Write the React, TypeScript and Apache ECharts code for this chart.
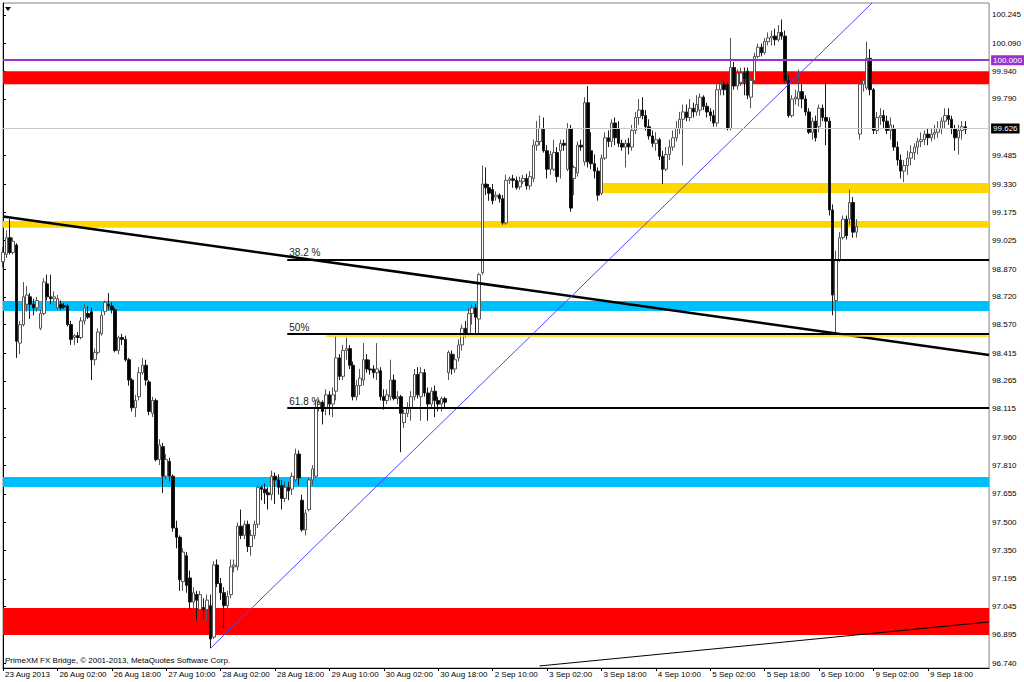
import React, { useEffect, useRef } from 'react';
import * as echarts from 'echarts';

// ---- tick labels ----
const tickLabels = [
  '23 Aug 2013', '26 Aug 02:00', '26 Aug 18:00', '27 Aug 10:00', '28 Aug 02:00', '28 Aug 18:00',
  '29 Aug 10:00', '30 Aug 02:00', '30 Aug 18:00', '2 Sep 10:00', '3 Sep 02:00', '3 Sep 18:00',
  '4 Sep 10:00', '5 Sep 02:00', '5 Sep 18:00', '6 Sep 10:00', '9 Sep 02:00', '9 Sep 18:00',
];
const priceTicks = [
  96.74, 96.895, 97.045, 97.195, 97.35, 97.5, 97.655, 97.81, 97.96, 98.115, 98.265, 98.415,
  98.57, 98.72, 98.87, 99.025, 99.175, 99.33, 99.485, 99.79, 99.94, 100.09, 100.245,
];

// ---- H1 candles [open, close, low, high] by trading day ----
const aug23 = [
  [98.91, 98.96, 98.88, 98.99], [98.95, 99.04, 98.93, 99.08], [99.04, 98.96, 98.95, 99.14],
  [98.96, 99.02, 98.95, 99.04], [99.0, 98.48, 98.39, 99.01], [98.47, 98.57, 98.41, 98.59],
  [98.57, 98.72, 98.56, 98.8], [98.68, 98.73, 98.64, 98.78], [98.72, 98.68, 98.6, 98.74],
  [98.68, 98.66, 98.62, 98.71], [98.66, 98.7, 98.64, 98.72], [98.55, 98.63, 98.54, 98.65],
  [98.63, 98.8, 98.62, 98.82], [98.79, 98.72, 98.7, 98.84],
];
const aug26 = [
  [98.72, 98.71, 98.68, 98.84], [98.71, 98.72, 98.69, 98.75], [98.66, 98.71, 98.65, 98.73],
  [98.68, 98.66, 98.65, 98.7], [98.672, 98.665, 98.655, 98.686], [98.67, 98.57, 98.56, 98.68],
  [98.57, 98.49, 98.46, 98.59], [98.5, 98.51, 98.46, 98.52], [98.51, 98.5, 98.47, 98.53],
  [98.5, 98.59, 98.49, 98.61], [98.59, 98.66, 98.57, 98.68], [98.63, 98.61, 98.6, 98.67],
  [98.64, 98.38, 98.27, 98.66], [98.38, 98.42, 98.35, 98.44], [98.42, 98.53, 98.41, 98.55],
  [98.52, 98.62, 98.51, 98.65], [98.64, 98.69, 98.62, 98.7], [98.68, 98.67, 98.65, 98.74],
  [98.67, 98.65, 98.63, 98.69], [98.65, 98.43, 98.42, 98.66], [98.43, 98.5, 98.41, 98.51],
  [98.5, 98.49, 98.46, 98.52], [98.49, 98.38, 98.37, 98.51], [98.38, 98.27, 98.24, 98.39],
];
const aug27 = [
  [98.27, 98.12, 98.1, 98.28], [98.12, 98.16, 98.07, 98.19], [98.18, 98.31, 98.16, 98.34],
  [98.31, 98.35, 98.3, 98.39], [98.35, 98.27, 98.24, 98.38], [98.26, 98.1, 98.08, 98.27],
  [98.09, 98.16, 98.07, 98.18], [98.16, 97.84, 97.83, 98.17], [97.84, 97.92, 97.81, 97.95],
  [97.91, 97.75, 97.66, 97.93], [97.75, 97.84, 97.73, 97.87], [97.83, 97.75, 97.72, 97.85],
  [97.75, 97.47, 97.45, 97.76], [97.47, 97.42, 97.36, 97.51], [97.42, 97.19, 97.13, 97.43],
  [97.18, 97.34, 97.13, 97.36], [97.32, 97.16, 97.12, 97.34], [97.2, 97.07, 97.03, 97.24],
  [97.07, 97.12, 97.0, 97.15], [97.11, 97.08, 96.97, 97.13], [97.03, 97.11, 96.97, 97.13],
  [97.04, 97.03, 96.98, 97.09], [97.03, 97.08, 96.97, 97.11], [97.05, 96.87, 96.82, 97.11],
];
const aug28 = [
  [96.88, 97.27, 96.87, 97.29], [97.27, 97.17, 97.15, 97.3], [97.17, 97.12, 97.08, 97.2],
  [97.12, 97.05, 96.93, 97.15], [97.05, 97.1, 96.92, 97.13], [97.11, 97.26, 97.09, 97.3],
  [97.26, 97.27, 97.23, 97.3], [97.26, 97.48, 97.24, 97.5], [97.48, 97.43, 97.41, 97.57],
  [97.43, 97.49, 97.41, 97.51], [97.49, 97.37, 97.34, 97.51], [97.37, 97.43, 97.32, 97.46],
  [97.43, 97.49, 97.41, 97.51], [97.49, 97.69, 97.47, 97.7], [97.69, 97.68, 97.62, 97.7],
  [97.68, 97.66, 97.6, 97.71], [97.66, 97.65, 97.57, 97.69], [97.65, 97.75, 97.62, 97.78],
  [97.75, 97.73, 97.6, 97.77], [97.73, 97.69, 97.65, 97.76], [97.7, 97.63, 97.57, 97.73],
  [97.63, 97.69, 97.61, 97.72], [97.69, 97.67, 97.62, 97.72], [97.68, 97.75, 97.65, 97.77],
];
const aug29 = [
  [97.73, 97.87, 97.72, 97.9], [97.87, 97.74, 97.7, 97.89], [97.62, 97.46, 97.45, 97.65],
  [97.46, 97.55, 97.43, 97.57], [97.57, 97.73, 97.56, 97.74], [97.73, 97.79, 97.7, 97.81],
  [97.75, 98.12, 97.74, 98.16], [98.12, 98.15, 98.1, 98.17], [98.15, 98.1, 98.03, 98.16],
  [98.12, 98.19, 98.08, 98.22], [98.19, 98.14, 98.08, 98.21], [98.14, 98.19, 98.07, 98.23],
  [98.21, 98.39, 98.16, 98.51], [98.39, 98.29, 98.27, 98.41], [98.29, 98.43, 98.27, 98.46],
  [98.43, 98.44, 98.38, 98.5], [98.44, 98.35, 98.33, 98.46], [98.35, 98.18, 98.16, 98.37],
  [98.18, 98.24, 98.16, 98.27], [98.24, 98.28, 98.19, 98.33], [98.27, 98.38, 98.24, 98.47],
  [98.38, 98.33, 98.31, 98.41], [98.33, 98.325, 98.3, 98.38], [98.33, 98.31, 98.28, 98.35],
];
const aug30 = [
  [98.31, 98.33, 98.27, 98.47], [98.32, 98.18, 98.16, 98.34], [98.18, 98.16, 98.11, 98.22],
  [98.16, 98.19, 98.14, 98.22], [98.18, 98.27, 98.16, 98.38], [98.27, 98.17, 98.16, 98.3],
  [98.17, 98.18, 98.14, 98.21], [98.18, 98.09, 97.88, 98.19], [98.04, 98.09, 98.01, 98.11],
  [98.09, 98.12, 98.07, 98.15], [98.12, 98.18, 98.05, 98.21], [98.18, 98.3, 98.16, 98.33],
  [98.3, 98.19, 98.17, 98.34], [98.18, 98.31, 98.05, 98.34], [98.31, 98.2, 98.18, 98.33],
  [98.2, 98.14, 98.05, 98.23], [98.14, 98.21, 98.12, 98.23], [98.21, 98.16, 98.07, 98.24],
  [98.16, 98.14, 98.1, 98.18], [98.14, 98.17, 98.1, 98.18], [98.17, 98.15, 98.12, 98.18],
  [98.31, 98.42, 98.27, 98.43], [98.41, 98.33, 98.3, 98.43], [98.33, 98.38, 98.31, 98.41],
];
const sep02 = [
  [98.39, 98.46, 98.37, 98.49], [98.46, 98.55, 98.43, 98.57], [98.55, 98.52, 98.5, 98.59],
  [98.52, 98.63, 98.51, 98.66], [98.63, 98.66, 98.57, 98.68], [98.66, 98.61, 98.52, 98.68],
  [98.6, 98.84, 98.52, 98.85], [98.85, 99.33, 98.84, 99.43], [99.33, 99.31, 99.27, 99.42],
  [99.31, 99.28, 99.24, 99.33], [99.3, 99.24, 99.22, 99.33], [99.26, 99.27, 99.24, 99.29],
  [99.27, 99.25, 99.23, 99.28], [99.25, 99.12, 99.11, 99.27], [99.12, 99.35, 99.11, 99.38],
  [99.35, 99.358, 99.33, 99.37], [99.358, 99.35, 99.31, 99.38], [99.35, 99.31, 99.3, 99.37],
  [99.315, 99.345, 99.3, 99.37], [99.345, 99.36, 99.33, 99.38], [99.36, 99.32, 99.3, 99.385],
  [99.32, 99.37, 99.3, 99.4], [99.36, 99.54, 99.34, 99.57], [99.54, 99.56, 99.51, 99.67],
];
const sep03 = [
  [99.56, 99.63, 99.54, 99.7], [99.63, 99.51, 99.5, 99.69], [99.51, 99.41, 99.36, 99.54],
  [99.41, 99.49, 99.38, 99.51], [99.41, 99.5, 99.4, 99.57], [99.5, 99.37, 99.34, 99.53],
  [99.51, 99.55, 99.36, 99.57], [99.55, 99.54, 99.51, 99.57], [99.41, 99.63, 99.4, 99.66],
  [99.63, 99.2, 99.18, 99.65], [99.36, 99.42, 99.27, 99.43], [99.39, 99.54, 99.37, 99.56],
  [99.54, 99.53, 99.51, 99.57], [99.45, 99.77, 99.43, 99.8], [99.77, 99.45, 99.42, 99.86],
  [99.51, 99.44, 99.41, 99.61], [99.44, 99.4, 99.36, 99.49], [99.4, 99.27, 99.24, 99.42],
  [99.28, 99.47, 99.27, 99.49], [99.47, 99.58, 99.46, 99.61], [99.58, 99.56, 99.53, 99.62],
  [99.56, 99.66, 99.53, 99.68], [99.66, 99.58, 99.54, 99.69], [99.63, 99.55, 99.53, 99.67],
];
const sep04 = [
  [99.55, 99.53, 99.51, 99.57], [99.53, 99.55, 99.42, 99.57], [99.55, 99.53, 99.49, 99.58],
  [99.53, 99.62, 99.51, 99.65], [99.62, 99.69, 99.6, 99.72], [99.69, 99.73, 99.65, 99.79],
  [99.73, 99.7, 99.68, 99.8], [99.7, 99.64, 99.62, 99.73], [99.64, 99.59, 99.57, 99.68],
  [99.59, 99.55, 99.53, 99.62], [99.55, 99.57, 99.51, 99.61], [99.57, 99.48, 99.46, 99.58],
  [99.48, 99.41, 99.33, 99.51], [99.41, 99.49, 99.4, 99.53], [99.49, 99.53, 99.46, 99.57],
  [99.53, 99.58, 99.51, 99.62], [99.58, 99.63, 99.56, 99.67], [99.63, 99.68, 99.6, 99.72],
  [99.68, 99.72, 99.43, 99.76], [99.72, 99.69, 99.67, 99.76], [99.69, 99.74, 99.67, 99.79],
  [99.74, 99.72, 99.69, 99.77], [99.72, 99.76, 99.7, 99.81], [99.73, 99.8, 99.7, 99.82],
];
const sep05 = [
  [99.8, 99.75, 99.73, 99.81], [99.75, 99.72, 99.69, 99.77], [99.72, 99.7, 99.67, 99.74],
  [99.7, 99.66, 99.64, 99.73], [99.66, 99.84, 99.64, 99.87], [99.84, 99.87, 99.81, 99.89],
  [99.87, 99.84, 99.81, 99.89], [99.87, 99.63, 99.62, 99.88], [99.63, 99.96, 99.62, 100.12],
  [99.96, 99.86, 99.84, 99.99], [99.86, 99.93, 99.84, 99.95], [99.88, 99.93, 99.86, 99.96],
  [99.93, 99.9, 99.81, 99.96], [99.94, 99.81, 99.79, 99.96], [99.8, 99.89, 99.74, 99.91],
  [99.89, 100.02, 99.88, 100.04], [100.02, 100.07, 100.01, 100.09], [100.07, 100.04, 100.02, 100.09],
  [100.04, 100.1, 100.03, 100.12], [100.1, 100.12, 100.08, 100.15], [100.12, 100.13, 100.08, 100.16],
  [100.13, 100.11, 100.08, 100.17], [100.11, 100.15, 100.1, 100.19], [100.15, 100.13, 100.11, 100.22],
];
const sep06 = [
  [100.13, 99.89, 99.88, 100.16], [99.89, 99.7, 99.69, 99.92], [99.7, 99.79, 99.69, 99.81],
  [99.79, 99.8, 99.76, 99.84], [99.79, 99.83, 99.75, 99.95], [99.83, 99.79, 99.74, 99.87],
  [99.79, 99.72, 99.7, 99.81], [99.72, 99.61, 99.6, 99.74], [99.61, 99.67, 99.57, 99.69],
  [99.67, 99.58, 99.56, 99.7], [99.64, 99.74, 99.61, 99.76], [99.74, 99.69, 99.67, 99.76],
  [99.69, 99.67, 99.54, 99.88], [99.67, 99.19, 99.16, 99.69], [99.19, 98.73, 98.62, 99.22],
  [98.7, 98.92, 98.53, 98.97], [98.92, 99.04, 98.91, 99.07], [99.04, 99.14, 99.03, 99.16],
  [99.14, 99.05, 99.03, 99.16], [99.14, 99.23, 99.11, 99.3], [99.23, 99.07, 99.04, 99.26],
  [99.07, 99.1, 99.04, 99.14], [99.6, 99.87, 99.57, 99.89], [99.87, 99.89, 99.83, 99.92],
];
const sep09 = [
  [99.85, 100.01, 99.84, 100.1], [100.01, 99.84, 99.81, 100.06], [99.84, 99.62, 99.6, 99.85],
  [99.62, 99.69, 99.6, 99.72], [99.69, 99.7, 99.65, 99.74], [99.7, 99.67, 99.63, 99.73],
  [99.67, 99.62, 99.6, 99.7], [99.62, 99.65, 99.57, 99.69], [99.63, 99.53, 99.51, 99.65],
  [99.53, 99.46, 99.43, 99.56], [99.46, 99.4, 99.36, 99.49], [99.4, 99.43, 99.34, 99.46],
  [99.43, 99.47, 99.38, 99.51], [99.47, 99.5, 99.43, 99.54], [99.5, 99.53, 99.46, 99.55],
  [99.53, 99.56, 99.49, 99.58], [99.56, 99.57, 99.53, 99.61], [99.57, 99.6, 99.54, 99.62],
  [99.6, 99.58, 99.54, 99.63], [99.58, 99.6, 99.56, 99.63], [99.6, 99.61, 99.57, 99.65],
  [99.61, 99.63, 99.58, 99.67], [99.63, 99.67, 99.6, 99.69], [99.67, 99.7, 99.63, 99.74],
];
const sep10 = [
  [99.7, 99.68, 99.65, 99.74], [99.68, 99.63, 99.6, 99.7], [99.63, 99.58, 99.51, 99.65],
  [99.58, 99.62, 99.49, 99.65], [99.62, 99.64, 99.57, 99.67], [99.64, 99.626, 99.6, 99.67],
];

// ---- drawn levels (prices) ----
const zoneLow = [99.87, 99.282, 99.093, 98.644, 97.692, 96.891];
const zoneHigh = [99.94, 99.336, 99.13, 98.698, 97.746, 97.037];
const zoneStart = [0, 174.5, 0, 0, 0, 0];
const roundLevel = 100.0;
const bidPrice = 99.626;
const fibLevels = [98.92, 98.519, 98.118];
const fibNames = ['38.2 %', '50%', '61.8 %'];
const fibStart = 83.6;
const thinYellowLevel = 98.508;
const thinYellowStart = 95;
const trendDown = [[0, 99.155], [290, 98.406]];
const trendUpBlue = [[61.1, 96.821], [255.6, 100.309]];
const trendLowThin = [[157.8, 96.724], [290, 96.962]];

const SLOTS = 291;

export default function App() {
  const ref = useRef<HTMLDivElement>(null);
  useEffect(() => {
    if (!ref.current) return;
    const chart = echarts.init(ref.current, null, { renderer: 'svg' });
    const ohlc = [
      ...aug23, ...aug26, ...aug27, ...aug28, ...aug29, ...aug30,
      ...sep02, ...sep03, ...sep04, ...sep05, ...sep06, ...sep09, ...sep10,
    ];
    const cats = Array.from({ length: SLOTS }, (_, i) => String(i));
    const showTick = (i: number) => i % 16 === 0 && i / 16 < tickLabels.length;
    const font = '"Liberation Sans", Arial, sans-serif';
    const zoneColors = ['#ff0000', '#ffd700', '#ffd700', '#00bfff', '#00bfff', '#ff0000'];
    const last = SLOTS - 1;

    chart.setOption({
      animation: false,
      backgroundColor: '#ffffff',
      textStyle: { fontFamily: font },
      grid: {
        left: 3, right: 34, top: 3, bottom: 14,
        show: true, borderColor: '#808080', borderWidth: 1, backgroundColor: '#ffffff',
      },
      xAxis: [
        {
          type: 'category', data: cats, boundaryGap: false,
          axisLine: { lineStyle: { color: '#000', width: 1 } },
          axisTick: { interval: showTick, length: 3, lineStyle: { color: '#000' } },
          axisLabel: {
            interval: showTick,
            formatter: (v: string) => tickLabels[Number(v) / 16] ?? '',
            align: 'left', margin: 2, fontSize: 8, color: '#000', padding: [0, 0, 0, 2],
          },
          splitLine: { show: false },
        },
        { type: 'value', min: 0, max: last, show: false },
      ],
      yAxis: {
        type: 'value', position: 'right', min: 96.713, max: 100.309,
        axisLine: { show: true, lineStyle: { color: '#000' } },
        axisTick: { show: true, customValues: priceTicks, length: 3, lineStyle: { color: '#000' } },
        axisLabel: {
          customValues: priceTicks, formatter: (v: number) => v.toFixed(3),
          fontSize: 8, color: '#000', margin: 3,
        },
        splitLine: { show: false },
      },
      graphic: [
        { type: 'polygon', shape: { points: [[5, 7], [11, 7], [8, 11]] }, style: { fill: '#000' } },
        {
          type: 'text', left: 5, top: 656,
          style: { text: 'PrimeXM FX Bridge, © 2001-2013, MetaQuotes Software Corp.', fill: '#000', font: '8px "Liberation Sans", Arial, sans-serif' },
        },
      ],
      series: [
        {
          type: 'line', xAxisIndex: 1, data: [[0, 90], [1, 90]], showSymbol: false, silent: true, z: 1,
          lineStyle: { opacity: 0 },
          markArea: {
            silent: true,
            data: zoneLow.map((lo, k) => [
              { xAxis: zoneStart[k], yAxis: zoneHigh[k], itemStyle: { color: zoneColors[k], opacity: 1 } },
              { xAxis: last, yAxis: lo },
            ]),
          },
        },
        {
          type: 'candlestick', data: ohlc, barWidth: 3, z: 2,
          itemStyle: { color: '#ffffff', color0: '#000000', borderColor: '#555555', borderColor0: '#1a1a1a', borderWidth: 1 },
        },
        {
          type: 'line', xAxisIndex: 1, data: trendDown, showSymbol: false, z: 3, silent: true,
          lineStyle: { color: '#000', width: 2.5 },
        },
        {
          type: 'line', xAxisIndex: 1, data: trendUpBlue, showSymbol: false, z: 3, silent: true,
          lineStyle: { color: '#4848ff', width: 1 },
        },
        {
          type: 'line', xAxisIndex: 1, data: trendLowThin, showSymbol: false, z: 3, silent: true,
          lineStyle: { color: '#000', width: 1 },
        },
        {
          type: 'line', xAxisIndex: 1, data: [[0, 90], [1, 90]], showSymbol: false, silent: true, z: 4,
          lineStyle: { opacity: 0 },
          markLine: {
            silent: true, symbol: ['none', 'none'], animation: false,
            data: [
              {
                yAxis: bidPrice, lineStyle: { color: '#c8c8c8', width: 1, type: 'solid' },
                label: { show: true, position: 'end', distance: 2, formatter: bidPrice.toFixed(3), backgroundColor: '#000', color: '#fff', fontSize: 8, padding: [1, 2, 1, 2] },
              },
              {
                yAxis: roundLevel, lineStyle: { color: '#9932cc', width: 2, type: 'solid' },
                label: { show: true, position: 'end', distance: 2, formatter: roundLevel.toFixed(3), backgroundColor: '#9932cc', color: '#fff', fontSize: 8, padding: [1, 2, 1, 2] },
              },
              [
                { xAxis: thinYellowStart, yAxis: thinYellowLevel, lineStyle: { color: '#ffd700', width: 1.5, type: 'solid' }, label: { show: false } },
                { xAxis: last, yAxis: thinYellowLevel },
              ],
              ...fibLevels.map((lv, k) => [
                {
                  xAxis: fibStart, yAxis: lv, lineStyle: { color: '#000', width: 2, type: 'solid' },
                  label: { show: true, position: 'insideStartTop', distance: 2, formatter: fibNames[k], color: '#222', fontSize: 10 },
                },
                { xAxis: last, yAxis: lv },
              ]),
            ],
          },
        },
      ],
    });
    return () => chart.dispose();
  }, []);
  return <div ref={ref} style={{ position: 'fixed', left: 0, top: 0, width: 1024, height: 682 }} />;
}
